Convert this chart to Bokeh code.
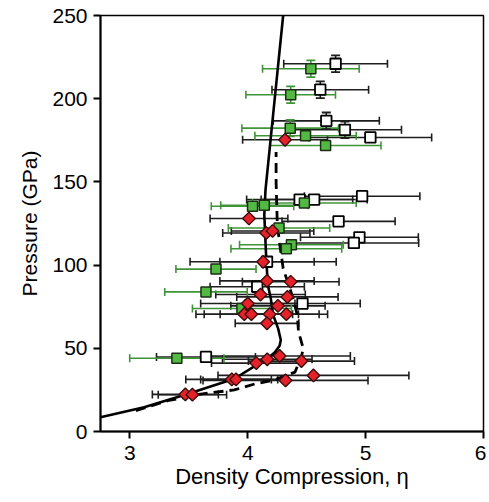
from bokeh.plotting import figure
from bokeh.models import Range1d, Whisker, TeeHead, ColumnDataSource, FixedTicker
from bokeh.embed import file_html
from bokeh.resources import INLINE
import math

# ---- data ----
x_ticks = [3, 4, 5, 6]
y_ticks = [0, 50, 100, 150, 200, 250]
x_title = "Density Compression, η"
y_title = "Pressure (GPa)"

# red diamonds
red_x = [4.316, 4.01, 4.157, 4.21, 4.13, 4.163, 4.364, 4.108, 4.336, 4.0, 4.256,
         3.97, 4.03, 4.185, 4.327, 4.163, 4.072, 4.165, 4.27, 4.455, 4.557,
         3.864, 3.90, 4.32, 3.47, 3.53]
red_y = [175.3, 128.0, 119.3, 120.5, 102.0, 90.5, 90.0, 82.3, 80.9, 76.9, 75.5,
         70.5, 70.5, 70.5, 70.5, 65.0, 41.1, 43.4, 45.4, 42.3, 33.7,
         31.3, 31.3, 30.7, 22.3, 22.1]
red_xerr = [0.36, 0.33, 0.37, 0.35, 0.62, 0.40, 0.41, 0.38, 0.43, 0.40, 0.40,
            0.41, 0.40, 0.42, 0.35, 0.27, 0.38, 0.38, 0.60, 0.45, 0.81,
            0.39, 0.30, 0.70, 0.28, 0.29]

# green squares
green_x = [4.535, 4.364, 4.36, 4.49, 4.66, 4.48, 4.14, 4.04, 4.265, 4.37, 4.327,
           3.73, 3.645, 3.95, 3.398]
green_y = [218.0, 202.4, 182.3, 177.7, 171.9, 137.3, 136.0, 135.4, 122.3, 112.2, 109.8,
           97.6, 83.9, 73.9, 44.0]
green_xerr = [0.41, 0.38, 0.41, 0.43, 0.47, 0.44, 0.37, 0.35, 0.43, 0.44, 0.47,
              0.34, 0.35, 0.42, 0.40]
green_yerr = [5, 5, 5, 0, 0, 0, 0, 0, 0, 0, 0, 0, 0, 0, 0]

# open squares
white_x = [4.745, 4.615, 4.666, 4.824, 5.04, 4.97, 4.563, 4.44, 4.77, 4.947, 4.90,
           4.163, 4.08, 4.464, 3.645]
white_y = [221.0, 205.4, 186.7, 181.3, 176.7, 141.4, 139.4, 139.4, 126.3, 116.7, 113.3,
           102.0, 87.0, 76.9, 44.8]
white_xerr = [0.44, 0.41, 0.45, 0.48, 0.52, 0.49, 0.45, 0.45, 0.48, 0.50, 0.55,
              0.40, 0.40, 0.49, 0.42]
white_yerr = [5, 5, 5, 5, 0, 0, 0, 0, 0, 0, 0, 0, 0, 0, 0]

# model curves
solid_x = [2.75, 3.12, 3.475, 3.886, 4.086, 4.17, 4.228, 4.27, 4.28, 4.257, 4.215,
           4.195, 4.17, 4.157, 4.14, 4.15, 4.2, 4.25, 4.30]
solid_y = [8.6, 14.6, 22.3, 31.7, 40.5, 44.0, 47.5, 51.5, 55.0, 62.0, 70.0,
           80.0, 88.0, 103.0, 130.0, 145.0, 180.0, 215.0, 250.0]
dash_x = [3.05, 3.32, 3.6, 3.886, 4.06, 4.228, 4.40, 4.455, 4.47, 4.43, 4.42,
          4.38, 4.30, 4.27, 4.25, 4.24, 4.24]
dash_y = [12.5, 18.5, 22.5, 25.0, 28.6, 31.0, 35.7, 44.8, 50.0, 60.0, 70.0,
          81.0, 98.0, 113.0, 125.0, 150.0, 168.0]

FONT = "Liberation Sans"
BLACK_BAR = "#1e1e1e"
GREEN_BAR = "#3f9437"

p = figure(width=486, height=498, x_range=Range1d(2.75, 6), y_range=Range1d(0, 250),
           output_backend="svg", toolbar_location=None,
           min_border_left=100, min_border_right=3, min_border_top=15, min_border_bottom=67)
p.grid.visible = False
p.outline_line_color = "black"
p.outline_line_width = 1.5
p.background_fill_color = "white"

for ax in (p.xaxis, p.yaxis):
    ax.axis_line_width = 2
    ax.axis_line_color = "black"
    ax.major_tick_line_width = 2
    ax.major_tick_line_color = "black"
    ax.major_tick_out = 7
    ax.major_tick_in = 0
    ax.minor_tick_out = 0
    ax.minor_tick_in = 0
    ax.major_label_text_font = FONT
    ax.major_label_text_font_size = "21px"
    ax.major_label_text_color = "black"
    ax.axis_label_text_font = FONT
    ax.axis_label_text_font_style = "normal"
    ax.axis_label_text_color = "black"

p.xaxis.axis_label_text_font_size = "22px"
p.yaxis.axis_label_text_font_size = "21px"
p.xaxis.ticker = FixedTicker(ticks=x_ticks)
p.yaxis.ticker = FixedTicker(ticks=y_ticks)
p.xaxis.axis_label = x_title
p.yaxis.axis_label = y_title
p.xaxis.major_label_standoff = 7
p.yaxis.major_label_standoff = 6
p.xaxis.axis_label_standoff = 1
p.yaxis.axis_label_standoff = 8


def xbars(xs, ys, errs, color):
    src = ColumnDataSource(dict(base=ys,
                                lower=[a - e for a, e in zip(xs, errs)],
                                upper=[a + e for a, e in zip(xs, errs)]))
    w = Whisker(base="base", lower="lower", upper="upper", dimension="width", source=src,
                line_color=color, line_width=1.6,
                lower_head=TeeHead(size=8, line_color=color, line_width=1.6),
                upper_head=TeeHead(size=8, line_color=color, line_width=1.6))
    p.add_layout(w)


def ybars(xs, ys, errs, color):
    sel = [i for i, e in enumerate(errs) if e > 0]
    src = ColumnDataSource(dict(base=[xs[i] for i in sel],
                                lower=[ys[i] - errs[i] for i in sel],
                                upper=[ys[i] + errs[i] for i in sel]))
    w = Whisker(base="base", lower="lower", upper="upper", dimension="height", source=src,
                line_color=color, line_width=1.6,
                lower_head=TeeHead(size=9, line_color=color, line_width=1.8),
                upper_head=TeeHead(size=9, line_color=color, line_width=1.8))
    p.add_layout(w)


xbars(white_x, white_y, white_xerr, BLACK_BAR)
xbars(red_x, red_y, red_xerr, BLACK_BAR)
xbars(green_x, green_y, green_xerr, GREEN_BAR)
ybars(white_x, white_y, white_yerr, BLACK_BAR)
ybars(green_x, green_y, green_yerr, GREEN_BAR)

p.line(solid_x, solid_y, line_color="black", line_width=2.6)
p.line(dash_x, dash_y, line_color="black", line_width=2.8, line_dash="10 6")

p.scatter(white_x, white_y, marker="square", size=10.5, fill_color="white",
          line_color="black", line_width=1.8)
p.scatter(green_x, green_y, marker="square", size=10, fill_color="#52ba43",
          line_color="#1b2e14", line_width=1.5)
p.scatter(red_x, red_y, marker="square", angle=math.pi / 4, size=9, fill_color="#e5212a",
          line_color="#3b0d0d", line_width=1.4)

open("out.html", "w").write(file_html(p, INLINE))
